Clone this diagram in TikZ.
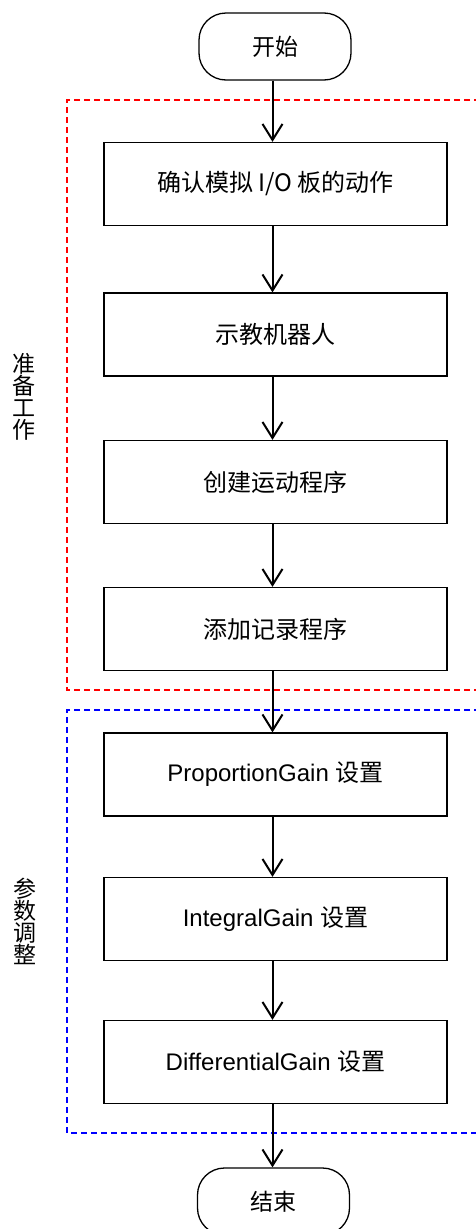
\documentclass[tikz,border=0pt]{standalone}
\usepackage{fontspec}
\setmainfont{Liberation Sans}
\newfontfamily\cjk{Noto Sans CJK SC}
\usetikzlibrary{arrows.meta}
\begin{document}
\begin{tikzpicture}[x=1pt,y=-1pt,
  term/.style={draw, line width=1.3pt, rounded corners=27pt, minimum width=152pt, minimum height=67pt, inner sep=0pt, font=\fontsize{23}{26}\selectfont\cjk},
  stepbox/.style={draw, line width=1.3pt, minimum width=343pt, minimum height=83pt, inner sep=0pt, font=\fontsize{24}{27}\selectfont},
  flow/.style={line width=2pt, -{Straight Barb[length=16pt,width=20pt]}},
  grp/.style={dashed, dash pattern=on 6pt off 4pt, line width=1.3pt},
  side/.style={font=\fontsize{23}{23}\selectfont\cjk, align=center, inner sep=0pt}]
\useasboundingbox (0,0) rectangle (476,1229);
\clip (0,0) rectangle (476,1229);
\fill[white] (0,0) rectangle (476,1229);
% group frames
\draw[grp, red] (480,100) -- (67,100) -- (67,690) -- (480,690);
\draw[grp, blue] (480,710) -- (67,710) -- (67,1133) -- (480,1133);
% nodes
\node[term] (start) at (275,46.5) {开始};
\node[stepbox, font=\fontsize{24}{27}\selectfont\cjk] (b1) at (275.5,184) {确认模拟 I/O 板的动作};
\node[stepbox] (b2) at (275.5,334.5) {\cjk 示教机器人};
\node[stepbox] (b3) at (275.5,482) {\cjk 创建运动程序};
\node[stepbox] (b4) at (275.5,629) {\cjk 添加记录程序};
\node[stepbox] (b5) at (275.5,774.5) {ProportionGain {\cjk 设置}};
\node[stepbox] (b6) at (275.5,919) {IntegralGain {\cjk 设置}};
\node[stepbox] (b7) at (275.5,1062) {DifferentialGain {\cjk 设置}};
\node[term] (end) at (273.5,1201.5) {结束};
% side labels
\node[side] (g1) at (24,397) {准\\[-1pt]备\\[-1pt]工\\[-1pt]作};
\node[side] (g2) at (25,921) {参\\[-1pt]数\\[-1pt]调\\[-1pt]整};
% connectors
\draw[flow] ([xshift=-2.5pt]start.south) -- ([xshift=-3pt]b1.north);
\draw[flow] ([xshift=-3pt]b1.south) -- ([xshift=-3pt]b2.north);
\draw[flow] ([xshift=-3pt]b2.south) -- ([xshift=-3pt]b3.north);
\draw[flow] ([xshift=-3pt]b3.south) -- ([xshift=-3pt]b4.north);
\draw[flow] ([xshift=-3pt]b4.south) -- ([xshift=-3pt]b5.north);
\draw[flow] ([xshift=-3pt]b5.south) -- ([xshift=-3pt]b6.north);
\draw[flow] ([xshift=-3pt]b6.south) -- ([xshift=-3pt]b7.north);
\draw[flow] ([xshift=-3pt]b7.south) -- ([xshift=-1pt]end.north);
\end{tikzpicture}
\end{document}
